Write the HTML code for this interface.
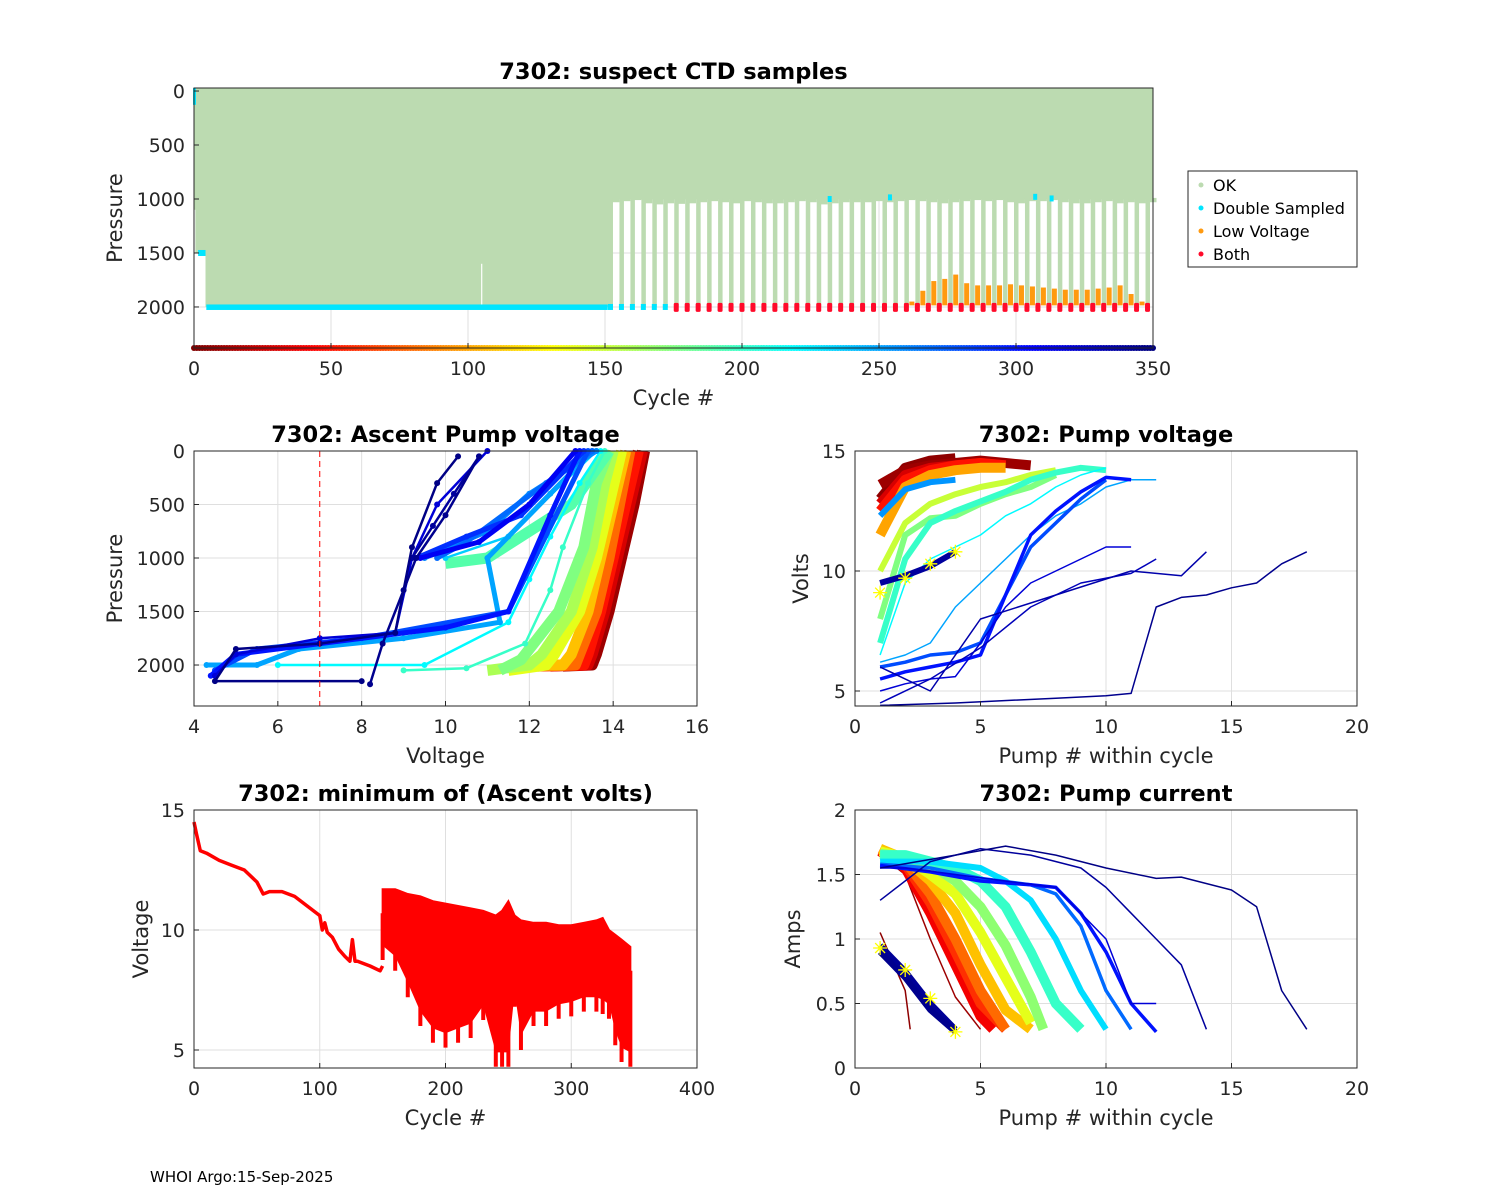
<!DOCTYPE html>
<html><head><meta charset="utf-8"><style>
html,body{margin:0;padding:0;background:#fff;}
svg{display:block;font-family:"DejaVu Sans","Liberation Sans",sans-serif;}
</style></head><body>
<svg id="fig" width="1500" height="1200" viewBox="0 0 1500 1200" xmlns="http://www.w3.org/2000/svg">
<rect x="0" y="0" width="1500" height="1200" fill="#fff"/>
<text x="150" y="1182" font-size="15" fill="#000">WHOI Argo:15-Sep-2025</text>
</svg>
<script>
// ---------- data ----------
var deepCycles = [152,156,160,164,168,172,176,180,184,188,192,196,200,204,208,212,216,220,224,228,232,236,240,244,248,252,256,260,264,268,272,276,280,284,288,292,296,300,304,308,312,316,320,324,328,332,336,340,344,348];
var shallowDepth = [1030,1020,1010,1040,1050,1040,1045,1040,1030,1020,1030,1040,1020,1030,1040,1040,1030,1020,1030,1050,1040,1030,1030,1030,1020,1030,1020,1010,1020,1030,1040,1030,1020,1010,1020,1010,1030,1040,1020,1020,1010,1030,1040,1040,1030,1020,1040,1030,1040,1030];
var orangeCycles = [262,266,270,274,278,282,286,290,294,298,302,306,310,314,318,322,326,330,334,338,342,346];
var orangeTop = [1950,1850,1760,1740,1700,1780,1800,1800,1800,1790,1800,1810,1820,1830,1840,1840,1840,1830,1820,1800,1880,1950];
var doubleExtra = [[232,1000],[254,985],[307,980],[313,995]];

var minCyclesEarly = [0,2,5,10,20,30,40,50,55,60,70,80,90,100,102,104,106,110,115,120,124,126,128,130,140,148,150];
var minVEarly = [14.5,14.0,13.3,13.2,12.9,12.7,12.5,12.0,11.5,11.6,11.6,11.4,11.0,10.6,10.0,10.3,9.9,9.7,9.2,8.9,8.7,9.6,8.7,8.7,8.5,8.3,8.5];
var minCyclesLate = [150,160,170,180,190,200,210,220,230,240,245,250,255,260,270,280,290,300,310,320,325,330,335,340,347];
var minHi = [11.7,11.7,11.5,11.4,11.2,11.1,11.0,10.9,10.8,10.6,10.8,11.2,10.6,10.4,10.3,10.3,10.2,10.2,10.3,10.4,10.5,10.0,9.8,9.6,9.3];
var minLo = [8.75,8.3,7.2,6.0,5.3,5.1,5.3,5.5,6.25,4.3,4.3,4.3,6.8,5.0,6.0,6.0,6.3,6.4,6.6,6.6,6.5,6.3,5.2,4.5,4.3];
var midCycles = [150,160,170,180,190,200,210,220,230,240,250,260,270,280,290,300,310,320,330,340,347];
var midV = [9.6,9.4,8.8,8.0,7.5,7.3,7.4,7.5,7.9,7.5,7.2,7.4,7.6,7.8,8.0,8.1,8.2,8.3,8.1,7.4,7.0];

var profCycles = [10,30,50,80,110,140,160,175,190,200,220,235,250,260,270,280,290,300,310,320,340,345,348];
var profV = [
 [14.75,14.5,14.2,13.9,13.6,13.5,12.8],
 [14.7,14.4,14.1,13.8,13.5,13.4,12.5],
 [14.6,14.3,14.0,13.7,13.4,13.3,12.2],
 [14.4,14.15,13.9,13.6,13.2,13.1,12.1],
 [14.3,14.0,13.7,13.4,13.0,12.8,12.0],
 [14.2,13.9,13.6,13.2,12.6,12.4,11.5],
 [14.0,13.8,13.5,13.0,12.3,12.0,11.0],
 [13.9,13.6,13.3,12.7,11.8,11.3],
 [13.9,13.0,11.0,10.0],
 [13.8,13.4,12.8,12.5,11.9,10.5,9.0],
 [13.7,13.2,12.5,12.0,11.5,9.5,6.0],
 [13.6,12.8,11.5,10.0],
 [13.5,12.5,11.0,11.3,9.0,6.5,5.5,4.3],
 [13.6,12.0,11.0,9.5],
 [13.5,12.4,10.5,9.8],
 [13.4,11.5,8.0,5.5,4.5],
 [13.3,11.8,10.5,9.3],
 [13.2,12.5,11.5,10.0,7.0,5.0,4.4],
 [13.1,12.0,10.8,9.4],
 [11.0,9.8,9.2,8.8,7.0,5.0,4.5],
 [10.8,10.2,9.7,9.2],
 [10.8,10.0,9.3,9.0,8.5,8.2],
 [10.3,9.8,9.2,8.8,7.0,5.0,4.5,8.0]
];
var profP = [
 [0,500,1000,1500,1900,2000,2010],
 [0,500,1000,1500,1900,2000,2010],
 [0,500,1000,1500,1900,2000,2010],
 [0,500,1000,1500,1900,2000,2010],
 [0,500,1000,1500,1900,2000,2000],
 [0,500,1000,1500,1900,2000,2050],
 [0,300,900,1500,1900,2000,2050],
 [0,300,900,1500,1950,2050],
 [0,500,1000,1050],
 [0,300,900,1300,1800,2030,2050],
 [0,300,800,1200,1600,2000,2000],
 [0,300,800,1000],
 [0,400,1000,1600,1750,1850,2000,2000],
 [0,400,750,1000],
 [0,300,850,1000],
 [0,1500,1750,1850,2050],
 [0,600,800,1000],
 [0,600,1500,1650,1800,1900,2100],
 [0,500,850,1000],
 [0,500,1000,1700,1750,1900,2100],
 [50,400,700,1000],
 [50,600,1000,1300,1800,2180],
 [50,300,900,1700,1800,1850,2150,2150]
];

var pvCycles = [5,10,30,50,100,150,175,200,220,250,255,280,300,320,330,335,340,345];
var pvPump = [
 [1,2,3,4],
 [1,2,3,4,5,6,7],
 [1,2,3,4,5,6],
 [1,2,3,4,5,6],
 [1,2,3,4,5,6],
 [1,2,3,4,5,6,7,8],
 [1,2,3,4,5,6,7,8],
 [1,2,3,4,5,6,7,8,9,10],
 [1,2,3,4,5,6,7,8,9,10],
 [1,2,3,4,5,6,7,8,9,10,11,12],
 [1,2,3,4],
 [1,2,3,4,5,6,7,8,9,10],
 [1,2,3,4,5,6,7,8,9,10,11],
 [1,2,3,4,5,6,7,8,9,10,11],
 [1,3,5,7,9,11,12],
 [1,3,5,8,11,13,14],
 [1,2,3,4],
 [1,4,8,10,11,12,13,14,15,16,17,18]
];
var pvVolts = [
 [13.0,14.3,14.6,14.7],
 [13.6,14.2,14.4,14.5,14.6,14.5,14.4],
 [12.8,14.0,14.3,14.4,14.5,14.4],
 [12.5,13.8,14.2,14.4,14.5,14.4],
 [11.5,13.5,14.0,14.2,14.3,14.3],
 [10.0,12.0,12.8,13.2,13.5,13.7,14.0,14.2],
 [8.0,11.5,12.2,12.3,12.8,13.2,13.5,14.0],
 [7.0,10.5,12.0,12.5,12.9,13.3,13.8,14.1,14.3,14.2],
 [6.5,9.5,10.5,11.0,11.5,12.3,12.8,13.5,14.0,14.3],
 [6.2,6.5,7.0,8.5,9.5,10.5,11.5,12.3,12.8,13.5,13.8,13.8],
 [12.3,13.4,13.7,13.8],
 [6.0,6.2,6.5,6.6,7.0,9.0,11.0,12.0,13.0,13.8],
 [5.5,5.8,6.0,6.2,6.5,9.0,11.5,12.5,13.3,13.9,13.8],
 [5.0,5.3,5.5,5.6,7.0,8.5,9.5,10.0,10.5,11.0,11.0],
 [4.5,5.5,6.8,8.5,9.5,9.9,10.5],
 [6.0,5.0,8.0,9.0,10.0,9.8,10.8],
 [9.5,9.8,10.2,10.8],
 [4.4,4.5,4.7,4.8,4.9,8.5,8.9,9.0,9.3,9.5,10.3,10.8]
];
var pvStarPump = [1,2,3,4];
var pvStarVolts = [9.1,9.7,10.3,10.8];

var pcCycles = [5,10,40,60,80,110,140,170,200,230,270,300,320,340,348,342,345];
var pcPump = [
 [1,2,2.2],
 [1,2,3,4,5],
 [1,2,3,4,5,5.5],
 [1,2,3,4,5,6],
 [1,2,3,4,5,6],
 [1,2,3,4,5,6,7],
 [1,2,3,4,5,6,7],
 [1,2,3,4,5,6,7,7.5],
 [1,2,3,4,5,6,7,8,9],
 [1,3,5,6,7,8,9,10],
 [1,3,5,7,8,9,10,11],
 [1,3,5,7,8,9,10,11,12],
 [1,2,4,6,8,10,11,12],
 [1,3,5,7,9,10,11,12,13,14],
 [1,4,6,8,10,12,13,15,16,17,18],
 [1,2,3,4],
 [1,2,3,4]
];
var pcAmps = [
 [1.05,0.6,0.3],
 [1.65,1.5,1.0,0.55,0.3],
 [1.68,1.55,1.2,0.8,0.4,0.3],
 [1.69,1.58,1.28,0.9,0.5,0.3],
 [1.7,1.6,1.35,1.0,0.6,0.3],
 [1.7,1.62,1.45,1.2,0.8,0.45,0.3],
 [1.68,1.63,1.5,1.35,1.05,0.7,0.35],
 [1.66,1.64,1.58,1.45,1.25,0.95,0.55,0.3],
 [1.65,1.65,1.6,1.55,1.45,1.25,0.9,0.5,0.3],
 [1.6,1.6,1.55,1.45,1.3,1.0,0.6,0.3],
 [1.58,1.55,1.47,1.42,1.35,1.1,0.6,0.3],
 [1.57,1.52,1.45,1.42,1.4,1.2,0.9,0.5,0.28],
 [1.55,1.55,1.5,1.45,1.4,1.0,0.5,0.5],
 [1.3,1.6,1.7,1.65,1.55,1.4,1.2,1.0,0.8,0.3],
 [1.55,1.65,1.72,1.65,1.55,1.47,1.48,1.38,1.25,0.6,0.3],
 [0.95,0.75,0.5,0.3],
 [0.9,0.7,0.45,0.28]
];
var pcStarPump = [1,2,3,4];
var pcStarAmps = [0.93,0.76,0.54,0.28];

// ---------- helpers ----------
var NS = 'http://www.w3.org/2000/svg';
var svg = document.getElementById('fig');
function mk(tag, attrs, name, parent) {
  var el = document.createElementNS(NS, tag);
  for (var k in attrs) el.setAttribute(k, attrs[k]);
  
  
  (parent || svg).appendChild(el);
  return el;
}
function txt(x, y, s, size, anchor, name, extra) {
  var a = {x: x, y: y, 'font-size': size, 'text-anchor': anchor || 'middle', fill: '#262626'};
  if (extra) for (var k in extra) a[k] = extra[k];
  var t = mk('text', a, name);
  t.textContent = s;
  return t;
}
function jet(cyc) {
  var t = 1 - cyc / 350;
  function c(v) { return Math.max(0, Math.min(1, v)); }
  var r = c(1.5 - Math.abs(4 * t - 3)), g = c(1.5 - Math.abs(4 * t - 2)), b = c(1.5 - Math.abs(4 * t - 1));
  return 'rgb(' + Math.round(r * 255) + ',' + Math.round(g * 255) + ',' + Math.round(b * 255) + ')';
}
function axes(o) {
  o.sx = function (v) { return o.x0 + (v - o.xmin) / (o.xmax - o.xmin) * (o.x1 - o.x0); };
  o.sy = o.yDown ? function (v) { return o.y0 + (v - o.ymin) / (o.ymax - o.ymin) * (o.y1 - o.y0); }
                 : function (v) { return o.y1 - (v - o.ymin) / (o.ymax - o.ymin) * (o.y1 - o.y0); };
  o.g = mk('g', {}, o.name + '-plot');
  return o;
}
function grid(o) {
  o.xt.forEach(function (v) {
    mk('line', {x1: o.sx(v), x2: o.sx(v), y1: o.y0, y2: o.y1, stroke: '#dfdfdf', 'stroke-width': 1}, o.name + '-x-gridline', o.g);
  });
  o.yt.forEach(function (v) {
    mk('line', {x1: o.x0, x2: o.x1, y1: o.sy(v), y2: o.sy(v), stroke: '#dfdfdf', 'stroke-width': 1}, o.name + '-y-gridline', o.g);
  });
}
function frame(o) {
  mk('rect', {x: o.x0, y: o.y0, width: o.x1 - o.x0, height: o.y1 - o.y0, fill: 'none', stroke: '#262626', 'stroke-width': 1}, o.name + '-axes-box');
  o.xt.forEach(function (v) {
    mk('line', {x1: o.sx(v), x2: o.sx(v), y1: o.y1, y2: o.y1 - 5, stroke: '#262626'}, o.name + '-x-tick');
    txt(o.sx(v), o.y1 + 27, String(v), 19, 'middle', o.name + '-x-tick-label');
  });
  o.yt.forEach(function (v) {
    mk('line', {x1: o.x0, x2: o.x0 + 5, y1: o.sy(v), y2: o.sy(v), stroke: '#262626'}, o.name + '-y-tick');
    txt(o.x0 - 9, o.sy(v) + 7, String(v), 19, 'end', o.name + '-y-tick-label');
  });
  txt((o.x0 + o.x1) / 2, o.y0 - 9, o.title, 22.5, 'middle', o.name + '-title', {'font-weight': 'bold', fill: '#000'});
  txt((o.x0 + o.x1) / 2, o.y1 + 57, o.xlabel, 21, 'middle', o.name + '-x-axis-title');
  var yl = txt(0, 0, o.ylabel, 21, 'middle', o.name + '-y-axis-title');
  yl.setAttribute('transform', 'translate(' + o.ylx + ',' + ((o.y0 + o.y1) / 2) + ') rotate(-90)');
}
function poly(o, xs, ys, color, w, name) {
  var pts = xs.map(function (v, i) { return o.sx(v).toFixed(1) + ',' + o.sy(ys[i]).toFixed(1); }).join(' ');
  return mk('polyline', {points: pts, fill: 'none', stroke: color, 'stroke-width': w, 'stroke-linejoin': 'round'}, name, o.g);
}
function star(o, x, y, name) {
  var cx = o.sx(x), cy = o.sy(y), d = '';
  for (var a = 0; a < 4; a++) {
    var an = a * Math.PI / 4, dx = 7 * Math.cos(an), dy = 7 * Math.sin(an);
    d += 'M' + (cx - dx) + ',' + (cy - dy) + 'L' + (cx + dx) + ',' + (cy + dy);
  }
  mk('path', {d: d, stroke: '#ffff00', 'stroke-width': 1.3}, name, o.g);
}

// ---------- top: suspect CTD ----------
var A = axes({name: 'ctd', x0: 194, x1: 1153, y0: 88, y1: 348, xmin: 0, xmax: 350, ymin: -28, ymax: 2380, yDown: true,
  xt: [0, 50, 100, 150, 200, 250, 300, 350], yt: [0, 500, 1000, 1500, 2000],
  title: '7302: suspect CTD samples', xlabel: 'Cycle #', ylabel: 'Pressure', ylx: 122});
grid(A);
var GREEN = '#bcdbb1';
mk('rect', {x: A.sx(0), y: A.y0, width: A.sx(4.2) - A.sx(0), height: A.sy(1100) - A.y0, fill: GREEN}, 'ok-samples-cycles-0-4', A.g);
mk('rect', {x: A.sx(0.5), y: A.y0, width: A.sx(4.2) - A.sx(0.5), height: A.sy(1500) - A.y0, fill: GREEN}, 'ok-samples-cycles-1-4', A.g);
mk('rect', {x: A.sx(4.2), y: A.y0, width: A.sx(151.5) - A.sx(4.2), height: A.sy(2000) - A.y0, fill: GREEN}, 'ok-samples-cycles-4-151', A.g);
mk('rect', {x: A.sx(151), y: A.y0, width: A.sx(350) - A.sx(151), height: A.sy(1000) - A.y0, fill: GREEN}, 'ok-samples-upper', A.g);
shallowDepth.forEach(function (d, i) {
  var c = deepCycles[i] + 2;
  mk('rect', {x: A.sx(c - 2) + 2, y: A.sy(990), width: A.sx(4) - A.sx(0) - 4, height: A.sy(d) - A.sy(990), fill: GREEN}, 'ok-samples-shallow-profile', A.g);
});
deepCycles.forEach(function (c) {
  mk('rect', {x: A.sx(c) - 2, y: A.sy(990), width: 4.5, height: A.sy(2000) - A.sy(990), fill: GREEN}, 'ok-samples-deep-profile', A.g);
});
mk('line', {x1: A.sx(105), x2: A.sx(105), y1: A.sy(1600), y2: A.sy(2000), stroke: '#ffffff', 'stroke-width': 1.2}, 'shallow-cycle-105', A.g);
mk('rect', {x: A.sx(0) - 1, y: A.sy(0) - 3, width: 3, height: A.sy(100) - A.sy(0) + 6, fill: '#00e5ff'}, 'double-sampled-cycle-0', A.g);
mk('rect', {x: A.sx(1.5), y: A.sy(1500) - 3, width: A.sx(4.2) - A.sx(1.5), height: 6, fill: '#00e5ff'}, 'double-sampled-cycles-1-4', A.g);
mk('rect', {x: A.sx(4.5), y: A.sy(2000) - 2.5, width: A.sx(151) - A.sx(4.5), height: 5.5, fill: '#00e5ff'}, 'double-sampled-bottom', A.g);
deepCycles.forEach(function (c) {
  if (c < 176) mk('rect', {x: A.sx(c) - 2.5, y: A.sy(2000) - 3, width: 5, height: 6, fill: '#00e5ff'}, 'double-sampled-point', A.g);
  else mk('rect', {x: A.sx(c) - 2.5, y: A.sy(1990) - 3, width: 5, height: 9, fill: '#ff0a2a', rx: 1.5}, 'both-flag-point', A.g);
});
doubleExtra.forEach(function (p) {
  mk('rect', {x: A.sx(p[0]) - 2, y: A.sy(p[1]) - 3, width: 4, height: 6, fill: '#00e5ff'}, 'double-sampled-point', A.g);
});
orangeCycles.forEach(function (c, i) {
  mk('rect', {x: A.sx(c) - 2.5, y: A.sy(orangeTop[i]), width: 5, height: A.sy(1985) - A.sy(orangeTop[i]), fill: '#ff9a10'}, 'low-voltage-samples', A.g);
});
for (var cc = 0; cc <= 350; cc++) {
  var col = jet(cc);
  mk('circle', {cx: A.sx(cc), cy: A.y1, r: 3, fill: col}, 'cycle-color-marker', A.g);
}
frame(A);
var L = mk('g', {}, 'legend');
mk('rect', {x: 1188, y: 171, width: 169, height: 96, fill: '#fff', stroke: '#262626', 'stroke-width': 1}, 'legend-box', L);
var legItems = [['OK', '#bcdbb1'], ['Double Sampled', '#00e5ff'], ['Low Voltage', '#ff9a10'], ['Both', '#ff0a2a']];
legItems.forEach(function (it, i) {
  var y = 185 + i * 23;
  mk('circle', {cx: 1201, cy: y, r: 2.5, fill: it[1]}, 'legend-entry-marker', L);
  var t = mk('text', {x: 1213, y: y + 6, 'font-size': 16, fill: '#000'}, 'legend-entry-' + it[0].toLowerCase().replace(' ', '-'), L);
  t.textContent = it[0];
});

// ---------- middle left ----------
var B = axes({name: 'ascent', x0: 194, x1: 697, y0: 451, y1: 706, xmin: 4, xmax: 16, ymin: 0, ymax: 2383, yDown: true,
  xt: [4, 6, 8, 10, 12, 14, 16], yt: [0, 500, 1000, 1500, 2000],
  title: '7302: Ascent Pump voltage', xlabel: 'Voltage', ylabel: 'Pressure', ylx: 122});
grid(B);
profCycles.forEach(function (c, i) {
  var w = c < 200 ? 11 : (c >= 250 && c <= 310 ? 5 : 2.5);
  poly(B, profV[i], profP[i], jet(c), w, 'ascent-profile-cycle-' + c);
  if (c >= 200) profV[i].forEach(function (v, j) {
    mk('circle', {cx: B.sx(v), cy: B.sy(profP[i][j]), r: 3, fill: jet(c)}, 'ascent-sample-point', B.g);
  });
});
mk('line', {x1: B.sx(7), x2: B.sx(7), y1: B.y0, y2: B.y1, stroke: '#ff0000', 'stroke-width': 1, 'stroke-dasharray': '6,4'}, 'low-voltage-threshold', B.g);
frame(B);

// ---------- middle right ----------
var C = axes({name: 'pumpvolt', x0: 855, x1: 1357, y0: 451, y1: 706, xmin: 0, xmax: 20, ymin: 4.375, ymax: 15, yDown: false,
  xt: [0, 5, 10, 15, 20], yt: [5, 10, 15],
  title: '7302: Pump voltage', xlabel: 'Pump # within cycle', ylabel: 'Volts', ylx: 808});
grid(C);
pvCycles.forEach(function (c, i) {
  var w = c <= 100 ? 10 : ((c <= 200 || c == 255 || c == 340) ? 6 : (c == 280 || c == 300 ? 3.5 : 1.5));
  poly(C, pvPump[i], pvVolts[i], jet(c), w, 'pump-voltage-cycle-' + c);
});
pvStarPump.forEach(function (p, i) { star(C, p, pvStarVolts[i], 'pump-voltage-star'); });
frame(C);

// ---------- bottom left ----------
var D = axes({name: 'minvolt', x0: 194, x1: 697, y0: 810, y1: 1068, xmin: 0, xmax: 400, ymin: 4.25, ymax: 15, yDown: false,
  xt: [0, 100, 200, 300, 400], yt: [5, 10, 15],
  title: '7302: minimum of (Ascent volts)', xlabel: 'Cycle #', ylabel: 'Voltage', ylx: 148});
grid(D);
poly(D, minCyclesEarly, minVEarly, '#ff0000', 3.5, 'min-volts-early-line');
var pts = minCyclesLate.map(function (c, i) { return D.sx(c) + ',' + D.sy(minHi[i]); });
for (var k = midCycles.length - 1; k >= 0; k--) pts.push(D.sx(midCycles[k]) + ',' + D.sy(midV[k]));
mk('polygon', {points: pts.join(' '), fill: '#ff0000', stroke: '#ff0000', 'stroke-width': 2}, 'min-volts-oscillation-band', D.g);
minCyclesLate.forEach(function (c, i) {
  mk('line', {x1: D.sx(c), x2: D.sx(c), y1: D.sy(minHi[i] - 1), y2: D.sy(minLo[i]), stroke: '#ff0000', 'stroke-width': 4}, 'min-volts-dip', D.g);
});
var loPts = minCyclesLate.map(function (c, i) { return D.sx(c) + ',' + D.sy(minLo[i] + 0.6); });
var loBand = loPts.concat(midCycles.slice().reverse().map(function (c, i) { return D.sx(c) + ',' + D.sy(midV[midCycles.length - 1 - i]); }));
mk('polygon', {points: loBand.join(' '), fill: '#ff0000'}, 'min-volts-lower-band', D.g);
frame(D);

// ---------- bottom right ----------
var E = axes({name: 'pumpcur', x0: 855, x1: 1357, y0: 810, y1: 1068, xmin: 0, xmax: 20, ymin: 0, ymax: 2, yDown: false,
  xt: [0, 5, 10, 15, 20], yt: [0, 0.5, 1, 1.5, 2],
  title: '7302: Pump current', xlabel: 'Pump # within cycle', ylabel: 'Amps', ylx: 800});
grid(E);
pcCycles.forEach(function (c, i) {
  var w = (c >= 40 && c <= 200) ? 10 : (c == 230 ? 6 : (c >= 342 && c <= 345 ? 6 : (c == 270 || c == 300 ? 3.5 : 1.5)));
  poly(E, pcPump[i], pcAmps[i], jet(c), w, 'pump-current-cycle-' + c);
});
pcStarPump.forEach(function (p, i) { star(E, p, pcStarAmps[i], 'pump-current-star'); });
frame(E);
</script>
</body></html>
